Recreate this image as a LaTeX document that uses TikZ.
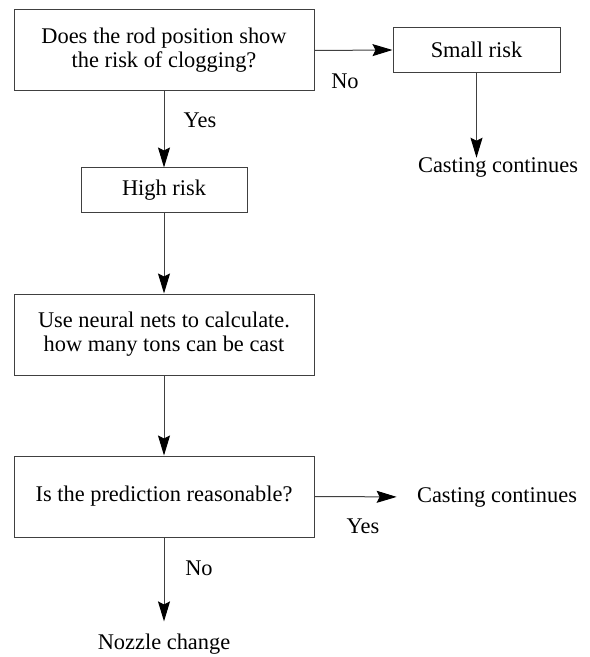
\documentclass[tikz,border=0pt]{standalone}
\usepackage{fontspec}
\setmainfont{Liberation Serif}
\usetikzlibrary{arrows.meta}
\tikzset{
  stepbox/.style={draw=black!75,line width=0.5pt,align=center,inner sep=0pt},
  plain/.style={inner sep=0pt},
  flow/.style={-{Stealth[length=10pt,width=6pt,inset=1.5pt,color=black,fill=black]},draw=black!75,line width=0.5pt}
}
\begin{document}
\begin{tikzpicture}[x=0.5pt,y=-0.5pt,font=\rmfamily\fontsize{11.2}{12}\selectfont]
		\useasboundingbox (0,0) rectangle (589,657);
		% boxes
		\node[stepbox,minimum width=150pt,minimum height=40.5pt] (rod) at (164,50.5)
			{Does the rod position show\\the risk of clogging?};
		\node[stepbox,minimum width=83.5pt,minimum height=22.5pt] (small) at (476.5,50)
			{Small risk};
		\node[stepbox,minimum width=83pt,minimum height=22.5pt] (high) at (164,190.5)
			{High risk};
		\node[stepbox,minimum width=150pt,minimum height=40.5pt] (nets) at (164,334.5)
			{Use neural nets to calculate.\\how many tons can be cast};
		\node[stepbox,minimum width=150pt,minimum height=40.5pt] (pred) at (164,496.5)
			{Is the prediction reasonable?};
		% outcomes
		\node[plain] (cast1) at (498,168) {Casting continues};
		\node[plain] (cast2) at (497,497) {Casting continues};
		\node[plain] (nozzle) at (164,644) {Nozzle change};
		% arrows
		\draw[flow] (rod.east) -- (small.west);
		\draw[flow] (small.south) -- (small.south |- cast1.north);
		\draw[flow] (rod.south) -- (high.north);
		\draw[flow] (high.south) -- (nets.north);
		\draw[flow] (nets.south) -- (pred.north);
		\draw[flow,shorten >=10pt] (pred.east) -- (cast2.west);
		\draw[flow,shorten >=6pt] (pred.south) -- (nozzle.north);
		% labels
		\node[plain] (yes1) at (200,120) {Yes};
		\node[plain] (no1) at (345,81) {No};
		\node[plain] (yes2) at (363,526) {Yes};
		\node[plain] (no2) at (199,568) {No};
		\end{tikzpicture}
\end{document}
